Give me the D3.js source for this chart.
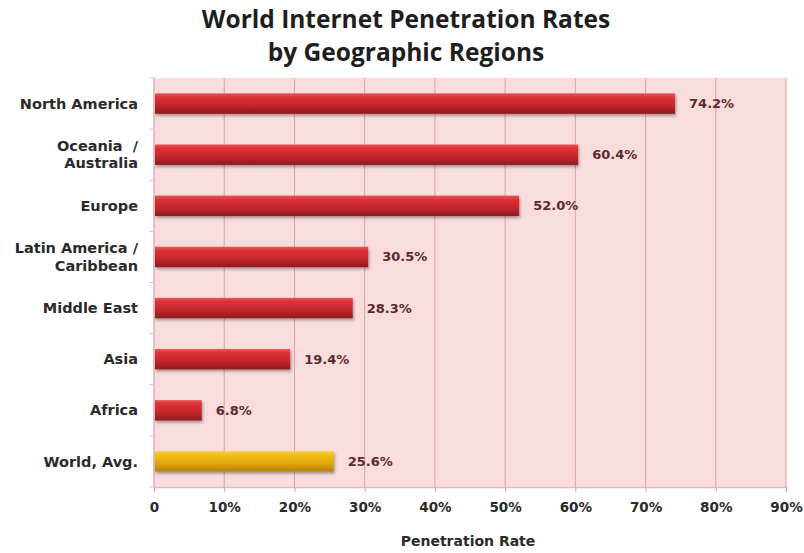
<!DOCTYPE html>
<html>
<head>
<meta charset="utf-8">
<script src="https://cdn.jsdelivr.net/npm/d3@7"></script>
<style>
  body { margin: 0; background: #fff; }
  text { font-family: "DejaVu Sans", Verdana, sans-serif; }
</style>
</head>
<body>
<script>
var regions = ["North America", "Oceania  /|Australia", "Europe", "Latin America /|Caribbean",
    "Middle East", "Asia", "Africa", "World, Avg."];
var rates = [74.2, 60.4, 52.0, 30.5, 28.3, 19.4, 6.8, 25.6];
var xTicks = [0, 10, 20, 30, 40, 50, 60, 70, 80, 90];

var width = 804,
    height = 553,
    margin = { top: 78, right: 18, bottom: 66, left: 154 };

var svg = d3.select("body").append("svg")
    .attr("width", width)
    .attr("height", height);

var defs = svg.append("defs");

function barGradient(id, stops) {
    var gr = defs.append("linearGradient")
        .attr("id", id)
        .attr("x1", 0).attr("y1", 0).attr("x2", 0).attr("y2", 1);
    stops.forEach(function (s) {
        gr.append("stop").attr("offset", s[0]).attr("stop-color", s[1]);
    });
}
barGradient("redBar", [[0, "#e65a5a"], [0.18, "#dc3236"], [0.6, "#c4262b"], [1, "#8e1a1e"]]);
barGradient("goldBar", [[0, "#f8d23a"], [0.2, "#f2bd14"], [0.6, "#e2a60c"], [1, "#b58208"]]);

var shadow = defs.append("filter").attr("id", "shadow")
    .attr("x", "-5%").attr("y", "-30%").attr("width", "110%").attr("height", "170%");
shadow.append("feGaussianBlur").attr("in", "SourceAlpha").attr("stdDeviation", 1.5);
shadow.append("feOffset").attr("dx", 1).attr("dy", 2).attr("result", "b");
shadow.append("feComponentTransfer").append("feFuncA").attr("type", "linear").attr("slope", 0.35);
var merge = shadow.append("feMerge");
merge.append("feMergeNode");
merge.append("feMergeNode").attr("in", "SourceGraphic");

var x = d3.scaleLinear()
    .domain([0, 90])
    .range([margin.left, width - margin.right]);

var y = d3.scaleBand()
    .domain(regions)
    .range([margin.top, height - margin.bottom])
    .paddingInner(0.6)
    .paddingOuter(0.3);

// title, two lines
var titleLines = ["World Internet Penetration Rates", "by Geographic Regions"];
svg.append("g").selectAll("text")
    .data(titleLines)
    .enter().append("text")
    .attr("x", 406)
    .attr("y", function (d, i) { return 28 + i * 33; })
    .attr("text-anchor", "middle")
    .style("font-family", "'Open Sans', sans-serif")
    .style("font-weight", "bold")
    .style("font-size", "24.5px")
    .attr("fill", "#1e1e1e")
    .text(function (d) { return d; });

// plot background
svg.append("rect")
    .attr("x", x(0)).attr("y", margin.top)
    .attr("width", x(90) - x(0))
    .attr("height", height - margin.bottom - margin.top)
    .attr("fill", "#f9dcdc");

// gridlines
svg.append("g")
    .selectAll("line")
    .data(xTicks.slice(1))
    .enter().append("line")
    .attr("x1", function (d) { return x(d); })
    .attr("x2", function (d) { return x(d); })
    .attr("y1", margin.top)
    .attr("y2", height - margin.bottom)
    .attr("stroke", "#d7a3a3")
    .attr("stroke-width", 1);

// x axis
var xAxis = svg.append("g")
    .attr("transform", "translate(0," + (height - margin.bottom) + ")")
    .call(d3.axisBottom(x)
        .tickValues(xTicks)
        .tickSize(5)
        .tickFormat(function (d) { return d === 0 ? "0" : d + "%"; }));
xAxis.select(".domain").attr("stroke", "#e6b8b8").attr("stroke-width", 1.5);
xAxis.selectAll(".tick line").attr("stroke", "#d7a3a3");
xAxis.selectAll(".tick text")
    .attr("y", 20)
    .attr("dy", "0.35em")
    .style("font-size", "13.5px")
    .style("font-weight", "bold")
    .attr("fill", "#2a2a2a");

// y axis line with boundary ticks
svg.append("line")
    .attr("x1", x(0)).attr("x2", x(0))
    .attr("y1", margin.top).attr("y2", height - margin.bottom)
    .attr("stroke", "#e0b0b0").attr("stroke-width", 1.5);
var step = y.step();
svg.append("g")
    .selectAll("line")
    .data(d3.range(regions.length + 1))
    .enter().append("line")
    .attr("x1", x(0) - 5).attr("x2", x(0))
    .attr("y1", function (i) { return margin.top + i * step; })
    .attr("y2", function (i) { return margin.top + i * step; })
    .attr("stroke", "#ccc");

// category labels
var cat = svg.append("g").selectAll("text")
    .data(regions)
    .enter().append("text")
    .attr("text-anchor", "end")
    .style("font-size", "14.5px")
    .style("font-weight", "bold")
    .attr("fill", "#2a2a2a")
    .attr("y", function (d) { return y(d) + y.bandwidth() / 2; });
cat.each(function (d) {
    var parts = d.split("|");
    var t = d3.select(this);
    parts.forEach(function (p, i) {
        t.append("tspan")
            .attr("x", 138)
            .attr("dy", i === 0 ? (parts.length > 1 ? "-0.25em" : "0.35em") : "1.2em")
            .style("white-space", "pre")
            .attr("xml:space", "preserve")
            .text(p);
    });
});

// bars
svg.append("g").selectAll("rect")
    .data(regions)
    .enter().append("rect")
    .attr("x", x(0) + 1)
    .attr("y", function (d) { return y(d); })
    .attr("height", y.bandwidth())
    .attr("width", function (d, i) { return x(rates[i]) - x(0) - 1; })
    .attr("fill", function (d, i) { return i === regions.length - 1 ? "url(#goldBar)" : "url(#redBar)"; })
    .attr("filter", "url(#shadow)");

// value labels
svg.append("g").selectAll("text")
    .data(regions)
    .enter().append("text")
    .attr("x", function (d, i) { return x(rates[i]) + 14; })
    .attr("y", function (d) { return y(d) + y.bandwidth() / 2; })
    .attr("dy", "0.35em")
    .style("font-size", "13px")
    .style("font-weight", "bold")
    .attr("fill", "#5e2a2c")
    .text(function (d, i) { return rates[i].toFixed(1) + "%"; });

// axis title
svg.append("text")
    .attr("x", 468).attr("y", 546)
    .attr("text-anchor", "middle")
    .style("font-size", "14px")
    .style("font-weight", "bold")
    .attr("fill", "#2a2a2a")
    .text("Penetration Rate");
</script>
</body>
</html>
